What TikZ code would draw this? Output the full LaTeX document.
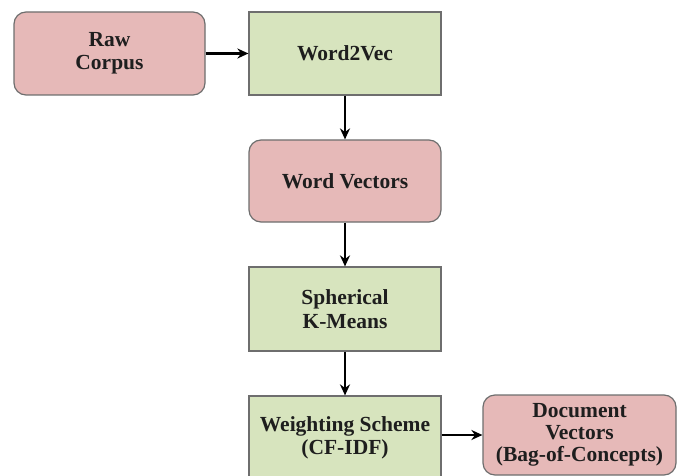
\documentclass[tikz,border=0pt]{standalone}
\usepackage{fontspec}
\setmainfont{Liberation Serif}
\usetikzlibrary{arrows.meta}

\definecolor{boxpink}{RGB}{230,185,184}
\definecolor{boxgreen}{RGB}{215,228,190}
\definecolor{boxline}{RGB}{110,110,110}
\definecolor{txt}{RGB}{30,30,30}

\tikzset{
  stage/.style={draw=boxline, line width=1.2pt, fill=boxgreen, text=txt,
    minimum width=192pt, minimum height=84pt, align=center,
    font=\fontsize{21.5}{23.5}\selectfont\bfseries},
  dataset/.style={stage, fill=boxpink, rounded corners=12pt},
  flow/.style={-{Stealth[length=11pt,width=10pt]}, line width=2.2pt, black}
}

\begin{document}
\begin{tikzpicture}[x=1pt, y=-1pt]
  \useasboundingbox (0,0) rectangle (677,476);

  % ---------- 节点 ----------
  \node[dataset, minimum width=191pt, minimum height=83pt] (raw) at (109.5,53.5) {Raw\\Corpus};
  \node[stage, minimum height=83pt] (w2v) at (345,53.5) {Word2Vec};
  \node[dataset, minimum height=82pt] (wv) at (345,181) {Word Vectors};
  \node[stage] (skm) at (345,309) {Spherical\\K-Means};
  \node[stage] (ws) at (345,438) {Weighting Scheme\\(CF-IDF)};
  \node[dataset, minimum width=193pt, minimum height=80pt, font=\fontsize{21.5}{22}\selectfont\bfseries] (doc) at (579.5,435) {Document\\Vectors\\(Bag-of-Concepts)};

  % ---------- 连线 ----------
  \draw[flow] (raw) -- (w2v);
  \draw[flow] (w2v) -- (wv);
  \draw[flow] (wv) -- (skm);
  \draw[flow] (skm) -- (ws);
  \draw[flow] (ws.east |- doc.west) -- (doc.west);
\end{tikzpicture}
\end{document}
